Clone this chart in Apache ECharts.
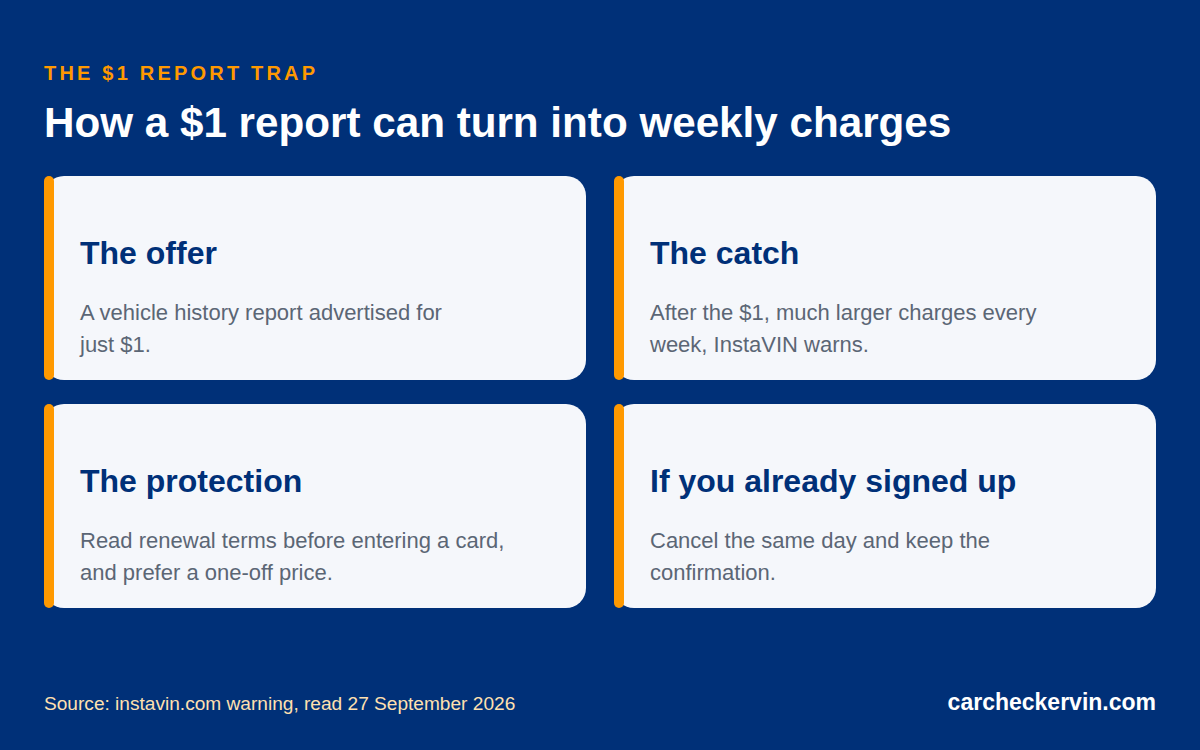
<!DOCTYPE html>
<html>
<head>
<meta charset="UTF-8">
<title>The $1 report trap</title>
<script src="https://cdn.jsdelivr.net/npm/echarts@6/dist/echarts.min.js"></script>
<style>
    html, body { margin: 0; padding: 0; background: #003078; }
    #chart { width: 1200px; height: 750px; }
    /* echarts has no letter spacing option, so the eyebrow gets it here */
    #chart text[fill="#ff9900"] { letter-spacing: 3.2px; }
</style>
</head>
<body>
<div id="chart"></div>
<script>
var eyebrow = 'THE $1 REPORT TRAP';
var headline = 'How a $1 report can turn into weekly charges';
var cardTitles = ['The offer', 'The catch', 'The protection', 'If you already signed up'];
var cardBodies = [
    'A vehicle history report advertised for\njust $1.',
    'After the $1, much larger charges every\nweek, InstaVIN warns.',
    'Read renewal terms before entering a card,\nand prefer a one-off price.',
    'Cancel the same day and keep the\nconfirmation.'
];
var source = 'Source: instavin.com warning, read 27 September 2026';
var brand = 'carcheckervin.com';

var font = '"Liberation Sans", Arial, sans-serif';
var navy = '#003078';
var orange = '#ff9900';

function label(x, y, text, size, weight, color, align, lineHeight) {
    return {
        type: 'text', x: x, y: y,
        style: {
            text: text, fill: color, fontFamily: font, fontSize: size, fontWeight: weight,
            align: align || 'left', verticalAlign: 'middle', lineHeight: lineHeight
        }
    };
}

var items = [
    label(44, 73, eyebrow, 20, 'bold', orange),
    label(44, 122, headline, 42.2, 'bold', '#ffffff'),
    label(44, 703, source, 19.1, 'normal', '#ffe0b0'),
    label(1156, 702, brand, 23, 'bold', '#ffffff', 'right')
];

cardTitles.forEach(function (title, i) {
    var left = 44 + (i % 2) * 570;
    var top = 176 + Math.floor(i / 2) * 228;
    items.push({
        type: 'rect',
        shape: { x: left, y: top, width: 542, height: 204, r: 20 },
        style: { fill: '#f5f7fb' }
    });
    items.push({
        type: 'rect',
        shape: { x: left, y: top, width: 10, height: 204, r: 5 },
        style: { fill: orange }
    });
    items.push(label(left + 36, top + 77, title, 32, 'bold', navy));
    items.push(label(left + 36, top + 152, cardBodies[i], 22, 'normal', '#5b6675', 'left', 32));
});

var chart = echarts.init(document.getElementById('chart'), null, { renderer: 'svg' });
chart.setOption({
    backgroundColor: navy,
    animation: false,
    graphic: { elements: items }
});
</script>
</body>
</html>
